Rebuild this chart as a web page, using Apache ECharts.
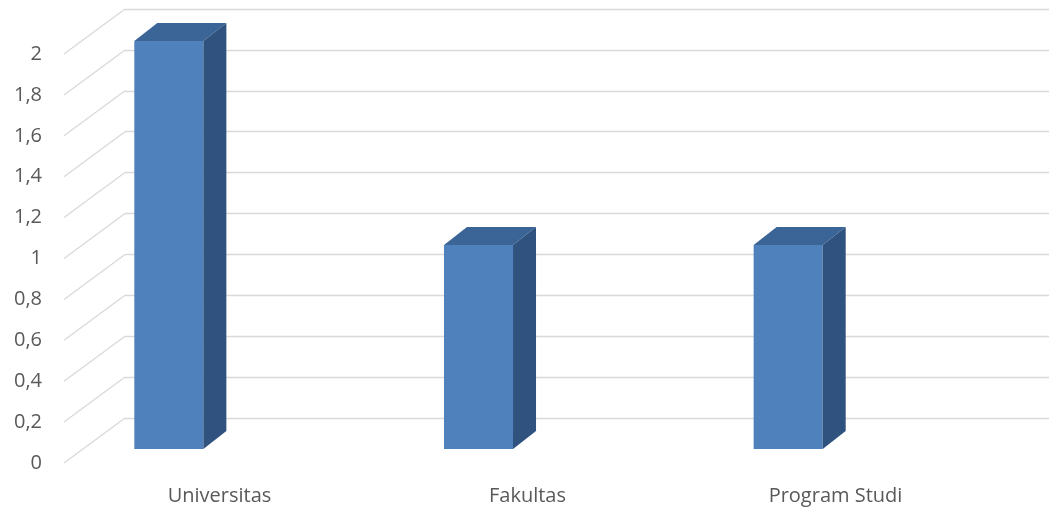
<!DOCTYPE html>
<html>
<head>
<meta charset="utf-8">
<script src="https://cdn.jsdelivr.net/npm/echarts@6/dist/echarts.min.js"></script>
<style>
html,body{margin:0;padding:0;background:#fff;}
#chart{width:1050px;height:511px;}
</style>
</head>
<body>
<div id="chart"></div>
<script>
const categories = ['Universitas', 'Fakultas', 'Program Studi'];
const values = [2, 1, 1];
const yTicks = [0, 0.2, 0.4, 0.6, 0.8, 1, 1.2, 1.4, 1.6, 1.8, 2];

const FRONT = '#4F81BD', TOP = '#3B6597', SIDE = '#30527F';
const GRID = '#D9D9D9', TEXT = '#595959';
const FONT = '"Open Sans", sans-serif';

const chart = echarts.init(document.getElementById('chart'));
chart.setOption({
  animation: false,
  backgroundColor: '#fff',
  grid: [
    { left: 125, right: 1, top: 9, bottom: 93 },        // back wall
    { left: 14, right: 107, top: 41, bottom: 62 },      // bars (front face plane)
    { left: 52, width: 12, top: 54, bottom: 48 },       // y labels (front)
    { left: 65.5, right: 60.5, top: 400, bottom: 31 }   // x labels (front)
  ],
  xAxis: [
    { gridIndex: 0, type: 'value', min: 0, max: 1, show: false },
    { gridIndex: 1, type: 'category', data: categories, show: false },
    { gridIndex: 2, type: 'value', min: 0, max: 1, show: false },
    { gridIndex: 3, type: 'category', data: categories,
      axisLine: { show: false }, axisTick: { show: false },
      axisLabel: { color: TEXT, fontSize: 20, fontFamily: FONT, margin: 6 } }
  ],
  yAxis: [
    { gridIndex: 0, type: 'value', min: 0, max: 2, interval: 0.2,
      axisLine: { show: false }, axisTick: { show: false }, axisLabel: { show: false },
      splitLine: { show: true, lineStyle: { color: GRID, width: 1.3 } } },
    { gridIndex: 1, type: 'value', min: 0, max: 2, interval: 0.2, show: false },
    { gridIndex: 2, type: 'value', min: 0, max: 2, interval: 0.2,
      axisLine: { show: false }, axisTick: { show: false }, splitLine: { show: false },
      axisLabel: { color: TEXT, fontSize: 20, fontFamily: FONT, margin: 10,
        formatter: v => String(+v.toFixed(1)).replace('.', ',') } },
    { gridIndex: 3, type: 'value', show: false }
  ],
  series: [
    {
      type: 'custom', xAxisIndex: 0, yAxisIndex: 0, z: 1, silent: true,
      data: yTicks.map(v => [0, v]),
      renderItem: function (params, api) {
        const p = api.coord([0, api.value(1)]);
        return { type: 'line', shape: { x1: p[0], y1: p[1], x2: p[0] - 61, y2: p[1] + 45 },
          style: { stroke: GRID, lineWidth: 1.3 } };
      }
    },
    {
      type: 'custom', xAxisIndex: 1, yAxisIndex: 1, z: 5, silent: true,
      data: values.map((v, i) => [i, v]),
      renderItem: function (params, api) {
        const p = api.coord([api.value(0), api.value(1)]);
        const b = api.coord([api.value(0), 0]);
        const w = api.size([1, 0])[0] * 0.223;
        const dx = 23, dy = 18;
        const l = p[0] - w / 2, r = p[0] + w / 2, t = p[1], bot = b[1];
        return { type: 'group', children: [
          { type: 'rect', shape: { x: l, y: t, width: w, height: bot - t }, style: { fill: FRONT } },
          { type: 'polygon', shape: { points: [[l, t], [r, t], [r + dx, t - dy], [l + dx, t - dy]] }, style: { fill: TOP } },
          { type: 'polygon', shape: { points: [[r, t], [r + dx, t - dy], [r + dx, bot - dy], [r, bot]] }, style: { fill: SIDE } }
        ]};
      }
    }
  ]
});
</script>
</body>
</html>
